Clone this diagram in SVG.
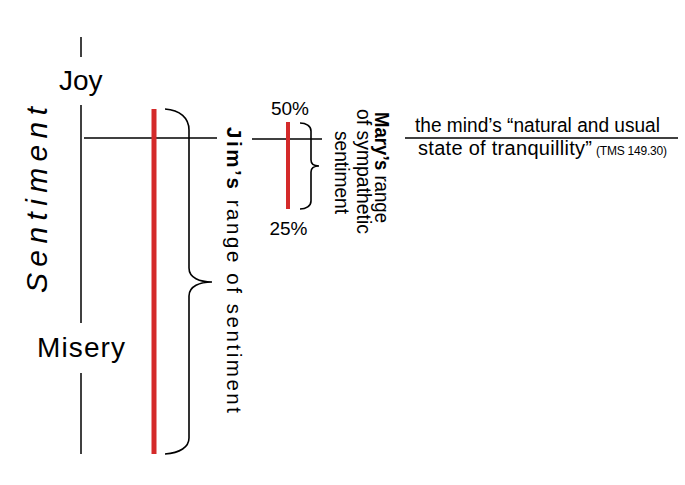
<svg xmlns="http://www.w3.org/2000/svg" width="685" height="485" viewBox="0 0 685 485">
<style>
.ln{stroke:#000;stroke-width:1.5;fill:none}
.br{stroke:#000;stroke-width:1.6;fill:none}
.red{stroke:#d42a2a;fill:none}
text{font-family:"Liberation Sans",Arial,sans-serif;fill:#000}
.b{font-weight:bold}
</style>
<rect width="685" height="485" fill="#fff"/>
<g id="connectors">
<line class="ln" x1="81" y1="37" x2="81" y2="57"/>
<line class="ln" x1="81" y1="105" x2="81" y2="323"/>
<line class="ln" x1="81" y1="373" x2="81" y2="454"/>
<line class="ln" x1="84" y1="138" x2="217" y2="138"/>
<line class="ln" x1="252" y1="139" x2="322" y2="139"/>
<line class="ln" x1="405" y1="138" x2="678" y2="138"/>
</g>
<g id="jim-range">
<line class="red" stroke-width="5" x1="154" y1="109" x2="154" y2="454"/>
<path class="br" d="M165,109 C180,110 189,118 189,130 L189,268 C189,278 200,282 212,282 C200,282 189,286 189,296 L189,438 C189,447 180,453 165,454"/>
<text transform="translate(227,127) rotate(90)" font-size="20.5" textLength="286" lengthAdjust="spacing"><tspan class="b">Jim’s</tspan> range of sentiment</text>
</g>
<g id="mary-range">
<line class="red" stroke-width="4" x1="288" y1="122" x2="288" y2="209"/>
<path class="br" d="M300,123 C306,123 311,126 311,131 L311,160 C311,164 314,166 319,166 C314,166 311,168 311,172 L311,201 C311,206 306,209 300,209"/>
<text x="290" y="115" font-size="19" text-anchor="middle">50%</text>
<text x="288.5" y="235" font-size="19" text-anchor="middle">25%</text>
<text transform="translate(375,112) rotate(90)" font-size="20" textLength="111" lengthAdjust="spacingAndGlyphs"><tspan class="b">Mary’s</tspan> range</text>
<text transform="translate(357,109) rotate(90)" font-size="20" textLength="125" lengthAdjust="spacingAndGlyphs">of sympathetic</text>
<text transform="translate(335,131) rotate(90)" font-size="20" textLength="83" lengthAdjust="spacingAndGlyphs">sentiment</text>
</g>
<g id="axis-labels">
<text x="59" y="90" font-size="28">Joy</text>
<text x="37" y="357" font-size="28" textLength="88" lengthAdjust="spacing">Misery</text>
<text transform="translate(47,293) rotate(-90)" font-size="30" font-style="italic" textLength="186" lengthAdjust="spacing">Sentiment</text>
</g>
<g id="tranquillity">
<text x="415" y="132" font-size="20" textLength="245" lengthAdjust="spacingAndGlyphs">the mind’s “natural and usual</text>
<text x="418" y="155" font-size="20" textLength="174" lengthAdjust="spacing">state of tranquillity”</text>
<text x="596" y="155" font-size="12" textLength="71" lengthAdjust="spacing">(TMS 149.30)</text>
</g>
</svg>
